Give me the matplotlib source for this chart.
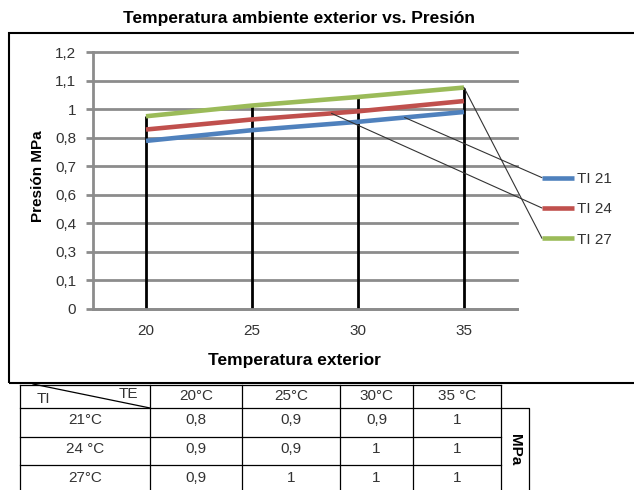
import numpy as np
import matplotlib
matplotlib.use("Agg")
import matplotlib.pyplot as plt
from matplotlib.patches import Rectangle

plt.rcParams['font.family'] = ['Liberation Sans', 'DejaVu Sans']

# chart data
temp_ext = [20, 25, 30, 35]
ti21 = [0.785, 0.835, 0.874, 0.920]
ti24 = [0.838, 0.885, 0.923, 0.971]
ti27 = [0.900, 0.950, 0.990, 1.034]
series_names = ["TI 21", "TI 24", "TI 27"]
series_colors = ["#4F81BD", "#C0504D", "#9BBB59"]
ytick_labels = ["0", "0,1", "0,3", "0,4", "0,6", "0,7", "0,8", "1", "1,1", "1,2"]

# table data
tbl_cols = ["20°C", "25°C", "30°C", "35 °C"]
tbl_rows = ["21°C", "24 °C", "27°C"]
tbl_vals = [["0,8", "0,9", "0,9", "1"],
            ["0,9", "0,9", "1", "1"],
            ["0,9", "1", "1", "1"]]

W, H = 634, 490
fig = plt.figure(figsize=(W / 100, H / 100), dpi=100)

# outer chart box (right edge runs off the page)
fig.add_artist(Rectangle((9 / W, 1 - 383 / H), 1.2, (383 - 33) / H,
                         transform=fig.transFigure, fill=False,
                         edgecolor="black", lw=1.5))

ax = fig.add_axes([93 / W, 1 - 309 / H, (517 - 93) / W, (309 - 52) / H])
x = np.arange(len(temp_ext))
yt = np.linspace(0, 1.2, 10)

for yv in yt:
    ax.axhline(yv, color="#8c8c8c", lw=2, zorder=1, clip_on=False)

series = [ti21, ti24, ti27]
tops = np.max(np.array(series), axis=0)
ax.vlines(x, 0, tops, color="black", lw=2, zorder=2)

for vals, c, n in zip(series, series_colors, series_names):
    ax.plot(x, vals, color=c, lw=3.3, label=n, zorder=3, solid_capstyle="butt")

ax.set_xlim(-0.5, 3.5)
ax.set_ylim(0, 1.2)
ax.set_yticks(yt)
ax.set_yticklabels(ytick_labels)
ax.set_xticks(x)
ax.set_xticklabels([str(t) for t in temp_ext])
for s in ["top", "right"]:
    ax.spines[s].set_visible(False)
ax.spines["left"].set_color("#8c8c8c")
ax.spines["left"].set_linewidth(2)
ax.spines["bottom"].set_color("#8c8c8c")
ax.spines["bottom"].set_linewidth(2)
ax.tick_params(axis="y", length=5, width=2, color="#8c8c8c", pad=7,
               labelsize=11, labelcolor="#333333")
ax.tick_params(axis="x", length=0, pad=11, labelsize=11, labelcolor="#333333")

fig.text(299 / W, 1 - 18 / H, "Temperatura ambiente exterior vs. Presión",
         ha="center", va="center", fontsize=12.5, fontweight="bold")
fig.text(294 / W, 1 - 360 / H, "Temperatura exterior", ha="center",
         va="center", fontsize=12.5, fontweight="bold")
fig.text(38 / W, 1 - 176 / H, "Presión MPa", ha="center", va="center",
         rotation=90, fontsize=11, fontweight="bold")

leg = ax.legend(loc="upper left", bbox_to_anchor=(542 / W, 1 - 172 / H),
                bbox_transform=fig.transFigure, frameon=False, fontsize=11,
                handlelength=2.1, handletextpad=0.2, labelspacing=1.07,
                borderpad=0, borderaxespad=0, labelcolor="#333333")
for lh in leg.legend_handles:
    lh.set_linewidth(3.3)

# leader lines from the series to the legend entries
fig.canvas.draw()
renderer = fig.canvas.get_renderer()
starts = [2.44, 1.75, 3.0]
for lh, vals, xs in zip(leg.legend_handles, series, starts):
    bb = lh.get_window_extent(renderer)
    end = (bb.x0, (bb.y0 + bb.y1) / 2)
    ax.annotate("", xy=end, xycoords="figure pixels",
                xytext=(xs, np.interp(xs, x, vals)), textcoords="data",
                arrowprops=dict(arrowstyle="-", lw=0.8, color="#333333",
                                shrinkA=0, shrinkB=0),
                annotation_clip=False)

# table below the chart
axt = fig.add_axes([0, 0, 1, (H - 383) / H])
axt.set_xlim(0, W)
axt.set_ylim(H, 383)
axt.axis("off")
col_x = [20, 150, 242, 340, 413, 501]
row_y = [385, 408, 437, 465, 494]
lk = dict(color="black", lw=0.9)
tk = dict(ha="center", va="center", fontsize=11, color="#333333")
for yy in row_y:
    axt.plot([col_x[0], col_x[-1]], [yy, yy], **lk)
for xx in col_x:
    axt.plot([xx, xx], [row_y[0], row_y[-1]], **lk)
axt.plot([501, 529, 529], [408, 408, 494], **lk)
axt.plot([33, 150], [384, 408], **lk)
axt.text(43, 399, "TI", **tk)
axt.text(128, 394, "TE", **tk)
for j, c in enumerate(tbl_cols):
    axt.text((col_x[j + 1] + col_x[j + 2]) / 2, 396, c, **tk)
for i, r in enumerate(tbl_rows):
    yc = (row_y[i + 1] + row_y[i + 2]) / 2 - 2
    axt.text((col_x[0] + col_x[1]) / 2, yc, r, **tk)
    for j, v in enumerate(tbl_vals[i]):
        axt.text((col_x[j + 1] + col_x[j + 2]) / 2, yc, v, **tk)
axt.text(515, 450, "MPa", ha="center", va="center", rotation=-90,
         fontsize=11, fontweight="bold")

fig.savefig("out.png", dpi=100)
